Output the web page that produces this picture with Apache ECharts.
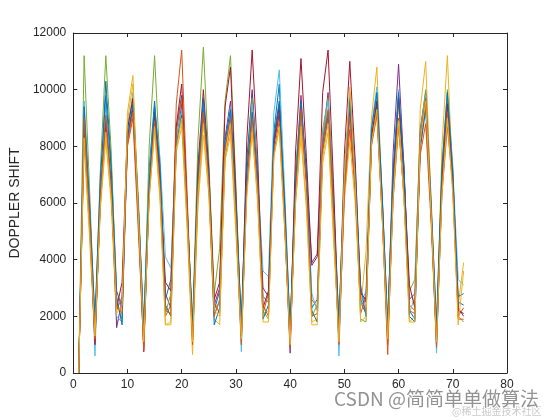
<!DOCTYPE html>
<html>
<head>
<meta charset="utf-8">
<script src="https://cdn.jsdelivr.net/npm/echarts@6/dist/echarts.min.js"></script>
<style>html,body{margin:0;padding:0;background:#fff;}#c{width:560px;height:420px;}</style>
</head>
<body>
<div id="c"></div>
<script>
const xValues = [1,2,3,4,5,6,7,8,9,10,11,12,13,14,15,16,17,18,19,20,21,22,23,24,25,26,27,28,29,30,31,32,33,34,35,36,37,38,39,40,41,42,43,44,45,46,47,48,49,50,51,52,53,54,55,56,57,58,59,60,61,62,63,64,65,66,67,68,69,70,71,72];
const yLabel = "DOPPLER SHIFT";
const xTicks = [0,10,20,30,40,50,60,70,80];
const yTicks = [0,2000,4000,6000,8000,10000,12000];
const seriesColors = ["#0072BD","#D95319","#EDB120","#7E2F8E","#77AC30","#4DBEEE","#A2142F","#0072BD","#D95319","#EDB120"];

const s1 = [0,9200,5800,1700,6400,10300,7400,2900,2300, 8200,9400,5500,1500,7200,9600,7000,2600,3300, 8600,9800,5800,1400,6800,9300,7200,2200,2900, 8000,9100,6200,1600,7500,9900,6800,2700,2500, 8500,10200,5400,1300,7000,9200,7300,2300,2600, 7800,9000,5900,1500,6600,9600,6900,2500,2100, 8300,9500,6100,1700,7100,9800,7100,2200,1900, 7900,9300,5600,1400,6900,9600,7000,2500,2400];
const s2 = [0,8600,5200,1300,6000,8700,6600,2200,2700, 8000,9000,5000,900,6500,8800,6400,2000,2400, 9500,11400,6300,1100,6100,9000,6900,2500,2100, 7600,8700,5400,1200,6700,9200,6300,2100,2800, 8100,9100,5600,1000,6400,8900,6700,2600,2300, 7900,9000,5200,1100,6200,8600,6500,2100,2700, 8400,9200,5500,650,6600,9000,6200,2400,2200, 7700,8800,5300,1000,6300,8700,6600,2000,2300];
const s3 = [0,8000,4800,1100,5800,8200,6000,1800,2000, 9200,10500,5700,1200,6200,8500,6100,1700,1800, 7800,8700,5100,650,5900,8400,6300,1900,1700, 7500,8400,4900,1100,6400,8600,6000,2000,2200, 7700,8600,5000,1200,6000,8300,5800,1800,1900, 7400,8500,4700,1300,6100,8200,6000,2300,4300, 9000,10800,5900,1100,6300,8800,6200,1800,2000, 9300,11000,6000,1200,8000,11200,6700,2400,3900];
const s4 = [0,8800,5600,1400,6300,9000,6800,1600,2600, 8400,9300,5900,1300,6800,9100,7100,2800,2300, 8100,9500,5600,1500,6600,9400,6900,2400,3000, 8300,9600,5800,1300,7000,10000,7000,3000,2700, 8000,9200,5300,700,6900,9800,6800,3900,4200, 8200,9900,6000,1200,6700,9300,6700,2900,2500, 8100,9400,5700,1500,7800,10900,7200,2600,2800, 8600,9900,5800,1300,7000,9700,7100,2300,2000];
const s5 = [0,11200,6500,1500,7200,11200,7800,2500,1900, 8800,9600,6200,1400,8000,11200,7300,2100,2800, 8300,9200,5900,1600,8200,11500,7500,2800,4400, 9600,11200,6600,1500,7000,9700,7100,2200,1900, 8400,9500,6100,1400,7100,9500,7000,2000,2400, 8600,9700,6300,1600,6900,9900,7200,1900,1800, 8200,9800,6000,1400,7000,9500,6900,2900,3300, 8500,10000,6200,1500,7300,10000,7300,2000,1800];
const s6 = [0,9600,6100,600,6700,9400,7000,2000,1800, 8500,9900,5800,1600,6900,9300,7600,4100,3700, 8200,9300,6000,1300,7100,9600,7300,2100,2500, 8100,9400,5700,750,6800,9500,7000,3600,3400, 9200,10700,6400,1500,6800,9100,7100,2800,2200, 8300,9600,5800,600,6800,9800,7400,2400,2900, 8700,10100,6200,1300,7200,10000,7000,2100,2700, 8400,9800,5900,700,6700,9800,7200,3300,3100];
const s7 = [0,8400,5400,1000,6200,8900,6500,2300,3200, 8600,9700,5600,750,6400,9200,6800,3200,2900, 8700,10200,6000,1200,7300,10000,7200,2600,3200, 9400,10800,6300,1300,8200,11400,7700,2300,2900, 8200,9400,5800,1100,7800,11100,7600,3800,4100, 9900,11400,6700,1400,7700,11000,7500,2800,2600, 8300,9600,5900,1200,6900,9700,7000,3100,2300, 8100,9500,5700,1100,6800,9500,6900,2200,2100];
const s8 = [0,9400,6000,1900,6900,9800,7200,2700,1700, 8300,9500,5900,1700,6700,9400,7300,2400,2000, 8000,9100,5700,1800,6900,9700,6800,1700,2300, 8200,9300,6000,1800,7100,9200,7000,1900,2400, 8300,9600,5900,1600,6700,9600,7100,2200,1800, 8100,9200,5800,1800,7000,9700,7000,3100,2000, 8600,9900,6200,1700,7100,9900,7300,2000,1800, 8200,9600,5900,1800,7200,9900,7000,2700,2800];
const s9 = [0,9000,5500,1200,6100,9100,6400,2400,2100, 8100,9200,5400,800,6300,8900,6600,2200,2100, 8500,9700,5800,1000,6500,9200,6700,2000,2600, 7900,9000,5500,1000,6500,9000,6500,2400,2000, 7800,8900,5300,900,6200,9300,6600,2000,2100, 8200,9300,5600,1000,6400,9000,6400,2600,2200, 8000,9100,5400,1000,6100,8700,6300,2200,2100, 8300,9700,5600,900,6500,9200,6500,1900,1900];
const s10 = [0,8300,5000,1300,5900,8500,6200,2100,2400, 8900,10200,5600,1100,6100,8700,6300,1700,1700, 7900,9000,5300,1100,6300,8800,6400,2200,2000, 7700,8800,5200,1200,6200,8500,6200,1800,1800, 7600,8700,5100,1000,6000,8700,6000,1700,1700, 7600,8800,5000,1100,7000,10100,6700,1800,2000, 8100,9300,5400,1200,6200,8900,6100,1800,1800, 8200,9600,5600,1100,6300,9000,6300,1700,3600];

const allSeries = [s1,s2,s3,s4,s5,s6,s7,s8,s9,s10];

const chart = echarts.init(document.getElementById('c'), null, {renderer:'canvas'});
const fontFam = "'Liberation Sans', Arial, sans-serif";
const axisCol = '#262626';

const seriesList = allSeries.map((arr, i) => ({
  type: 'line',
  data: arr.map((v, j) => [xValues[j], v]),
  showSymbol: false,
  symbol: 'none',
  lineStyle: {width: 1, color: seriesColors[i]},
  itemStyle: {color: seriesColors[i]},
  xAxisIndex: 0, yAxisIndex: 0,
  z: 2 + i
}));

const plainFmt = v => String(v);

chart.setOption({
  animation: false,
  backgroundColor: '#ffffff',
  grid: {left: 73, right: 53, top: 33, bottom: 47, containLabel: false},
  xAxis: [
    {type: 'value', min: xTicks[0], max: xTicks[xTicks.length-1], interval: 10, position: 'bottom',
     axisLine: {show: true, onZero: false, lineStyle: {color: axisCol, width: 1}},
     axisTick: {show: true, inside: true, length: 4, lineStyle: {color: axisCol}},
     axisLabel: {color: axisCol, fontSize: 12, fontFamily: fontFam, margin: 6, formatter: plainFmt},
     splitLine: {show: false}},
    {type: 'value', min: xTicks[0], max: xTicks[xTicks.length-1], interval: 10, position: 'top',
     axisLine: {show: true, onZero: false, lineStyle: {color: axisCol, width: 1}},
     axisTick: {show: true, inside: true, length: 4, lineStyle: {color: axisCol}},
     axisLabel: {show: false}, splitLine: {show: false}}
  ],
  yAxis: [
    {type: 'value', min: yTicks[0], max: yTicks[yTicks.length-1], interval: 2000, position: 'left',
     name: yLabel, nameLocation: 'middle', nameGap: 45, nameRotate: 90,
     nameTextStyle: {color: axisCol, fontSize: 14, fontFamily: fontFam},
     axisLine: {show: true, onZero: false, lineStyle: {color: axisCol, width: 1}},
     axisTick: {show: true, inside: true, length: 4, lineStyle: {color: axisCol}},
     axisLabel: {color: axisCol, fontSize: 12, fontFamily: fontFam, margin: 7, formatter: plainFmt},
     splitLine: {show: false}},
    {type: 'value', min: yTicks[0], max: yTicks[yTicks.length-1], interval: 2000, position: 'right',
     axisLine: {show: true, onZero: false, lineStyle: {color: axisCol, width: 1}},
     axisTick: {show: true, inside: true, length: 4, lineStyle: {color: axisCol}},
     axisLabel: {show: false}, splitLine: {show: false}}
  ],
  series: seriesList,
  graphic: [
    {type: 'text', left: 452, top: 406, z: 99,
     style: {text: '@稀土掘金技术社区', fontSize: 10, fontFamily: "'Noto Sans CJK SC', sans-serif",
             fill: 'rgba(150,150,150,0.5)'}},
    {type: 'text', left: 333, top: 388, z: 100,
     style: {text: 'CSDN @简简单单做算法', fontSize: 19, fontFamily: "'Noto Sans CJK SC', sans-serif",
             fill: 'rgba(110,110,110,0.75)', stroke: 'rgba(255,255,255,0.8)', lineWidth: 2}}
  ]
});
</script>
</body>
</html>
